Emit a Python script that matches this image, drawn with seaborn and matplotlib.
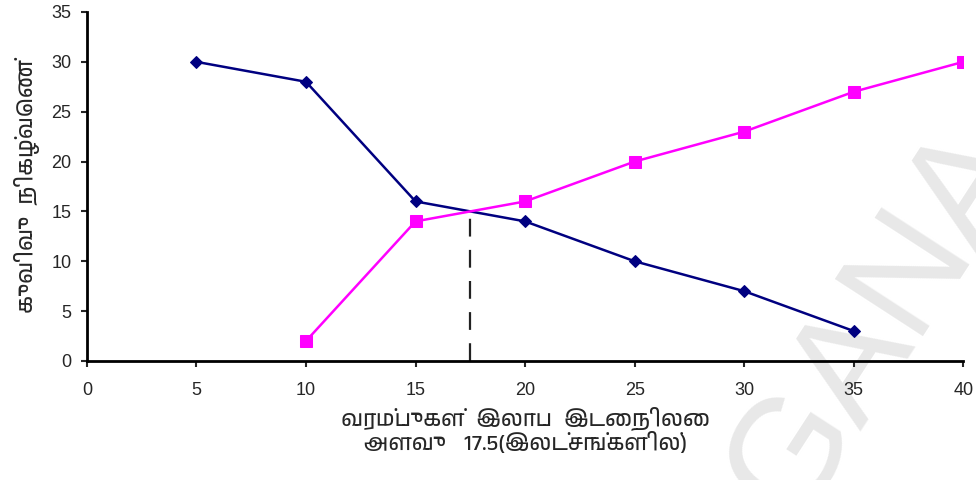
import matplotlib
matplotlib.use("Agg")
import matplotlib.pyplot as plt
from matplotlib import font_manager
import seaborn as sns
import pandas as pd

# data
less_x = [5, 10, 15, 20, 25, 30, 35]
less_y = [30, 28, 16, 14, 10, 7, 3]
more_x = [10, 15, 20, 25, 30, 35, 40]
more_y = [2, 14, 16, 20, 23, 27, 30]
median_x = 17.5
median_y = 15.1

xlabel = "வரம்புகள்  இலாப  இடைநிலை\nஅளவு   17.5(இலட்சங்களில்)"
ylabel = "குவிவு  நிகழ்வெண்"

sns.set_style("white")

# look for any font that can draw Tamil
tamil = []
for f in font_manager.findSystemFonts():
    if "tamil" in f.lower() or "lohit-ta" in f.lower():
        font_manager.fontManager.addfont(f)
        tamil.append(font_manager.FontProperties(fname=f).get_name())
label_family = tamil[:1] + ["Liberation Sans", "DejaVu Sans"]
plt.rcParams["font.family"] = ["Liberation Sans", "DejaVu Sans"]

df_less = pd.DataFrame({"x": less_x, "y": less_y})
df_more = pd.DataFrame({"x": more_x, "y": more_y})

fig = plt.figure(figsize=(9.76, 4.8), dpi=100)
ax = fig.add_axes([0.089, 0.248, 0.898, 0.727])
ax.set_facecolor("none")

# faint watermark behind the plot
fig.text(0.90, 0.33, "GANA", rotation=57, fontsize=110, color="#e8e8e8",
         ha="center", va="center", zorder=-1, family="Liberation Sans")

sns.lineplot(data=df_less, x="x", y="y", ax=ax, color="#000080", marker="D",
             markersize=6, markeredgecolor="#000080", linewidth=1.8)
sns.lineplot(data=df_more, x="x", y="y", ax=ax, color="#ff00ff", marker="s",
             markersize=8, markeredgecolor="#ff00ff", linewidth=1.8)
ax.plot([median_x, median_x], [0, median_y], color="#222222", linewidth=1.6,
        dashes=(8, 6))

ax.set_xlim(0, 40)
ax.set_ylim(0, 35)
ax.set_xticks(range(0, 41, 5))
ax.set_yticks(range(0, 36, 5))
ax.tick_params(axis="both", direction="out", length=4, width=1.5, labelsize=13,
               bottom=True, left=True, pad=7)
ax.tick_params(axis="x", pad=11)
for s in ["top", "right"]:
    ax.spines[s].set_visible(False)
for s in ["left", "bottom"]:
    ax.spines[s].set_linewidth(2)
    ax.spines[s].set_color("black")

ax.set_xlabel(xlabel, family=label_family, fontsize=16, fontweight="bold",
              linespacing=1.05, labelpad=6)
ax.set_ylabel(ylabel, family=label_family, fontsize=16, fontweight="bold",
              labelpad=8)

fig.savefig("out.png", dpi=100)
